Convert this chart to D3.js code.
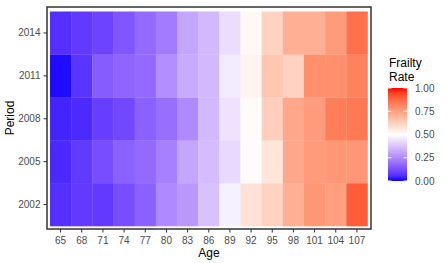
<!DOCTYPE html>
<html>
<head>
<meta charset="utf-8">
<script src="https://cdn.jsdelivr.net/npm/d3@7"></script>
<style>
  body { margin: 0; background: #fff; }
  text { font-family: "Liberation Sans", Arial, sans-serif; }
</style>
</head>
<body>
<div id="chart"></div>
<script>
const ages = [65, 68, 71, 74, 77, 80, 83, 86, 89, 92, 95, 98, 101, 104, 107];
const periods = [2002, 2005, 2008, 2011, 2014];

// frailty rate by period, one value per age
const rate2002 = [0.06, 0.08, 0.08, 0.12, 0.16, 0.25, 0.28, 0.37, 0.47, 0.58, 0.62, 0.71, 0.77, 0.75, 0.90];
const rate2005 = [0.05, 0.08, 0.12, 0.16, 0.18, 0.23, 0.31, 0.36, 0.42, 0.51, 0.57, 0.73, 0.76, 0.77, 0.77];
const rate2008 = [0.04, 0.05, 0.09, 0.11, 0.16, 0.19, 0.25, 0.35, 0.44, 0.51, 0.63, 0.73, 0.76, 0.83, 0.84];
const rate2011 = [0.01, 0.07, 0.15, 0.17, 0.18, 0.26, 0.32, 0.35, 0.46, 0.53, 0.65, 0.62, 0.79, 0.79, 0.82];
const rate2014 = [0.06, 0.08, 0.10, 0.14, 0.18, 0.22, 0.31, 0.35, 0.43, 0.52, 0.62, 0.71, 0.71, 0.76, 0.86];

const legendBreaks = [0, 0.25, 0.5, 0.75, 1];

const rates = { 2002: rate2002, 2005: rate2005, 2008: rate2008, 2011: rate2011, 2014: rate2014 };
const cells = [];
periods.forEach(p => ages.forEach((a, i) => cells.push({ period: p, age: a, value: rates[p][i] })));

const W = 447, H = 263;
const panel = { left: 47, top: 7, right: 371, bottom: 229 };

const svg = d3.select("#chart")
              .append("svg")
              .attr("width", W)
              .attr("height", H);

const x = d3.scaleBand()
            .domain(ages)
            .range([panel.left + 3, panel.right - 3.5]);

const y = d3.scaleBand()
            .domain(periods)
            .range([panel.bottom - 3, panel.top + 4.5]);

// ggplot gradient2: blue - white - red, midpoint 0.5 (Lab)
const color = d3.scaleLinear()
                .domain([0, 0.5, 1])
                .range(["blue", "white", "red"])
                .interpolate(d3.interpolateLab);

svg.append("g")
   .selectAll("rect")
   .data(cells)
   .join("rect")
   .attr("x", d => x(d.age))
   .attr("y", d => y(d.period))
   .attr("width", x.bandwidth() + 0.3)
   .attr("height", y.bandwidth() + 0.3)
   .attr("fill", d => color(d.value));

svg.append("rect")
   .attr("x", panel.left)
   .attr("y", panel.top)
   .attr("width", panel.right - panel.left)
   .attr("height", panel.bottom - panel.top)
   .attr("fill", "none")
   .attr("stroke", "#333333")
   .attr("stroke-width", 1.5);

// axes
const xAxis = svg.append("g")
                 .attr("transform", `translate(0, ${panel.bottom})`)
                 .call(d3.axisBottom(x).tickSize(3.5).tickPadding(4));

const yAxis = svg.append("g")
                 .attr("transform", `translate(${panel.left}, 0)`)
                 .call(d3.axisLeft(y).tickSize(3.5).tickPadding(3));

[xAxis, yAxis].forEach(g => {
  g.select(".domain").remove();
  g.selectAll(".tick line").attr("stroke", "#333333").attr("stroke-width", 1);
  g.selectAll(".tick text")
   .attr("fill", "#4d4d4d")
   .style("font-size", "10px")
   .style("font-family", "'Liberation Sans', Arial, sans-serif");
});

svg.append("text")
   .attr("x", (panel.left + panel.right) / 2)
   .attr("y", 257)
   .attr("text-anchor", "middle")
   .style("font-size", "12px")
   .text("Age");

svg.append("text")
   .attr("transform", `translate(14, ${(panel.top + panel.bottom) / 2}) rotate(-90)`)
   .attr("text-anchor", "middle")
   .style("font-size", "12px")
   .text("Period");

// legend
const leg = { x: 388, w: 19, top: 88, bottom: 181 };
const ly = d3.scaleLinear().domain([0, 1]).range([leg.bottom, leg.top]);

svg.append("text").attr("x", 389).attr("y", 67).style("font-size", "12px").text("Frailty");
svg.append("text").attr("x", 389).attr("y", 80.5).style("font-size", "12px").text("Rate");

const grad = svg.append("defs")
                .append("linearGradient")
                .attr("id", "frailty")
                .attr("x1", 0).attr("y1", 1).attr("x2", 0).attr("y2", 0);

grad.selectAll("stop")
    .data(d3.range(0, 1.0001, 0.05))
    .join("stop")
    .attr("offset", d => d)
    .attr("stop-color", d => color(d));

svg.append("rect")
   .attr("x", leg.x)
   .attr("y", leg.top)
   .attr("width", leg.w)
   .attr("height", leg.bottom - leg.top)
   .attr("fill", "url(#frailty)");

const ticks = svg.append("g");
legendBreaks.forEach(b => {
  ticks.append("line")
       .attr("x1", leg.x).attr("x2", leg.x + 3.5)
       .attr("y1", ly(b)).attr("y2", ly(b))
       .attr("stroke", "white").attr("stroke-width", 1);
  ticks.append("line")
       .attr("x1", leg.x + leg.w - 3.5).attr("x2", leg.x + leg.w)
       .attr("y1", ly(b)).attr("y2", ly(b))
       .attr("stroke", "white").attr("stroke-width", 1);
});

svg.append("g")
   .selectAll("text")
   .data(legendBreaks)
   .join("text")
   .attr("x", 415)
   .attr("y", d => ly(d))
   .attr("dy", "0.35em")
   .attr("fill", "#4d4d4d")
   .style("font-size", "10px")
   .text(d => d3.format(".2f")(d));
</script>
</body>
</html>
